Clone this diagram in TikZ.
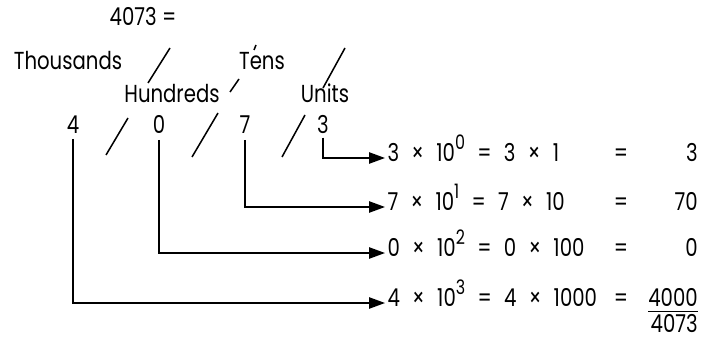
\documentclass[tikz,border=0pt]{standalone}
\usepackage{fontspec}
\setmainfont[FakeStretch=0.8]{Poppins}
\usetikzlibrary{arrows.meta,positioning}
\newcommand{\tm}{\hspace{0.5em}×\hspace{0.5em}}
\newcommand{\eqs}{\hspace{0.5em}=\hspace{0.5em}}
\newcommand{\pw}[1]{\raisebox{0.5em}{\fontsize{17}{17}\selectfont #1}}
\tikzset{
  txt/.style={inner sep=0pt, text height=0.66em, text depth=0pt, font=\fontsize{21}{24}\selectfont},
  lbl/.style={txt},
  dig/.style={txt},
  eqn/.style={txt, anchor=west, inner sep=2pt},
  val/.style={txt, anchor=east},
  slash/.style={line width=1.3pt},
  ar/.style={-{Triangle[length=4.8mm,width=3.4mm]}, line width=1.3pt},
}

\begin{document}
\begin{tikzpicture}[x=0.03cm, y=-0.03cm]
  \useasboundingbox (0,0) rectangle (706,342);
  % number and place names
  \node[lbl] (num) at (143,22) {4073 =};
  \node[lbl] (thou) at (68,66) {Thousands};
  \node[lbl] (tens) at (262,66) {Tens};
  \node[lbl] (hund) at (172,99) {Hundreds};
  \node[lbl] (unit) at (325,99) {Units};
  % digits
  \node[dig] (d4) at (73,130) {4};
  \node[dig] (d0) at (159,130) {0};
  \node[dig] (d7) at (245,130) {7};
  \node[dig] (d3) at (323,130) {3};
  % slashes
  \draw[slash] (170,48) -- (148,83);
  \draw[slash] (256,45) -- (254,50);
  \draw[slash] (239,79) -- (230,92);
  \draw[slash] (345,48) -- (323,88);
  \draw[slash] (128,118) -- (106,155);
  \draw[slash] (218,113) -- (192,157);
  \draw[slash] (305,115) -- (282,157);
  % expanded terms
  \node[eqn] (r1) at (385,158) {3\tm 10\pw{0}\eqs 3\tm 1};
  \node[eqn] (r2) at (385,207) {7\tm 10\pw{1}\eqs 7\tm 10};
  \node[eqn] (r3) at (385,253) {0\tm 10\pw{2}\eqs 0\tm 100};
  \node[eqn] (r4) at (385,303) {4\tm 10\pw{3}\eqs 4\tm 1000};
  \foreach \i/\y in {1/158,2/207,3/253,4/303}
    \node[txt] (e\i) at (621,\y) {=};
  \node[val] (v1) at (698,158) {3};
  \node[val] (v2) at (698,207) {70};
  \node[val] (v3) at (698,253) {0};
  \node[val] (v4) at (698,303) {4000};
  \node[val] (sum) at (698,329) {4073};
  \draw[line width=1pt] ([yshift=-4pt]v4.south west) -- ([yshift=-4pt]v4.south east);
  % connectors
  \draw[ar] ([yshift=-3pt]d3.south) |- (r1.west);
  \draw[ar] ([yshift=-5pt]d7.south) |- (r2.west);
  \draw[ar] ([yshift=-5pt]d0.south) |- (r3.west);
  \draw[ar] ([yshift=-4pt]d4.south) |- (r4.west);
\end{tikzpicture}
\end{document}
